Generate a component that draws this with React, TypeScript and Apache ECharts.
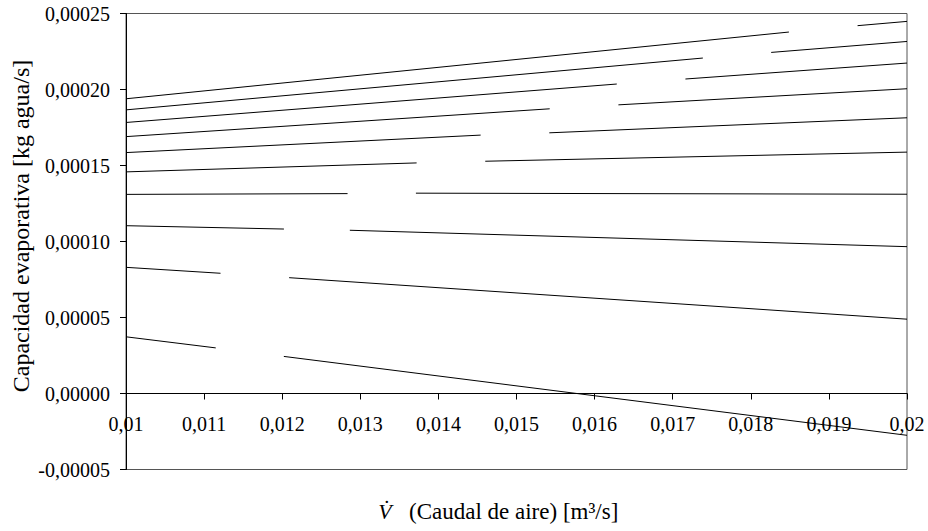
import React, { useEffect, useRef } from "react";
import * as echarts from "echarts";

// Each curve is drawn from x = 0.01 to x = 0.02 with one break (gap) in it.
const xStart = 0.01;
const xEnd = 0.02;
const gapStartX = [0.018488, 0.017386, 0.016284, 0.015425, 0.014541, 0.013721, 0.012837, 0.012022, 0.01121, 0.011149];
const gapEndX = [0.019367, 0.018261, 0.017163, 0.016305, 0.01542, 0.0146, 0.013712, 0.012866, 0.012089, 0.012021];
const yAtStart = [0.0001939, 0.0001866, 0.0001783, 0.000169, 0.0001585, 0.0001458, 0.000131, 0.0001104, 0.000083, 0.0000373];
const yAtGapStart = [0.0002378, 0.0002207, 0.0002036, 0.0001873, 0.00017, 0.0001517, 0.0001315, 0.0001082, 0.0000791, 0.00003];
const yAtGapEnd = [0.000242, 0.0002244, 0.0002069, 0.0001899, 0.0001715, 0.0001528, 0.0001318, 0.0001074, 0.0000762, 0.0000244];
const yAtEnd = [0.0002448, 0.0002316, 0.0002174, 0.0002005, 0.0001814, 0.0001588, 0.0001311, 0.0000966, 0.0000489, -0.0000275];

const yMin = -0.00005;
const yMax = 0.00025;
const yStep = 0.00005;
const xStep = 0.001;

const yTitle = "Capacidad evaporativa [kg agua/s]";
const xTitleSymbol = "V\u0307";
const xTitleText = "(Caudal de aire) [m³/s]";

const FONT = "'Liberation Serif', 'Times New Roman', serif";

const GRID_TOP = 13.5;
const GRID_BOTTOM = 61.5;
const CHART_H = 531;

export default function App() {
  const ref = useRef<HTMLDivElement>(null);
  useEffect(() => {
    if (!ref.current) return;
    const chart = echarts.init(ref.current, null, { renderer: "svg" });
    const series = yAtStart.map((_, i) => ({
      type: "line",
      name: "c" + i,
      showSymbol: false,
      symbol: "none",
      connectNulls: false,
      lineStyle: { color: "#000", width: 1 },
      data: [
        [xStart, yAtStart[i]],
        [gapStartX[i], yAtGapStart[i]],
        [(gapStartX[i] + gapEndX[i]) / 2, "-"],
        [gapEndX[i], yAtGapEnd[i]],
        [xEnd, yAtEnd[i]],
      ],
    }));
    // place the x axis on the y = 0 line
    const plotH = CHART_H - GRID_TOP - GRID_BOTTOM;
    const zeroOffset = -plotH * (0 - yMin) / (yMax - yMin);
    chart.setOption({
      animation: false,
      backgroundColor: "#fff",
      grid: {
        left: 126,
        right: 21,
        top: GRID_TOP,
        bottom: GRID_BOTTOM,
        show: true,
        borderColor: "#555",
        borderWidth: 1,
      },
      xAxis: {
        type: "value",
        position: "bottom",
        offset: zeroOffset,
        min: xStart,
        max: xEnd,
        interval: xStep,
        axisLine: { onZero: false, lineStyle: { color: "#000", width: 1 } },
        axisTick: { show: true, inside: false, length: 6, lineStyle: { color: "#000" } },
        splitLine: { show: false },
        axisLabel: {
          color: "#000",
          fontFamily: FONT,
          fontSize: 20,
          margin: 20,
          showMinLabel: true,
          showMaxLabel: true,
          formatter: (v: number) => String(Math.round(v * 1000) / 1000).replace(".", ","),
        },
      },
      yAxis: {
        type: "value",
        min: yMin,
        max: yMax,
        interval: yStep,
        axisLine: { show: true, onZero: false, lineStyle: { color: "#000", width: 1 } },
        axisTick: { show: true, inside: false, length: 6, lineStyle: { color: "#000" } },
        splitLine: { show: false },
        axisLabel: {
          color: "#000",
          fontFamily: FONT,
          fontSize: 20,
          margin: 16,
          formatter: (v: number) => v.toFixed(5).replace(".", ","),
        },
      },
      graphic: [
        {
          type: "text",
          x: 21,
          y: 226,
          rotation: Math.PI / 2,
          style: {
            text: yTitle,
            fontFamily: FONT,
            fontSize: 24,
            fill: "#000",
            align: "center",
            verticalAlign: "middle",
          },
        },
        {
          type: "text",
          x: 385,
          y: 511,
          style: {
            text: xTitleSymbol,
            fontFamily: FONT,
            fontSize: 22,
            fontStyle: "italic",
            fill: "#000",
            align: "center",
            verticalAlign: "middle",
          },
        },
        {
          type: "text",
          x: 409,
          y: 511,
          style: {
            text: xTitleText,
            fontFamily: FONT,
            fontSize: 23,
            fill: "#000",
            align: "left",
            verticalAlign: "middle",
          },
        },
      ],
      series,
    });
    return () => chart.dispose();
  }, []);
  return <div ref={ref} style={{ width: 928, height: 531, position: "absolute", left: 0, top: 0 }} />;
}
